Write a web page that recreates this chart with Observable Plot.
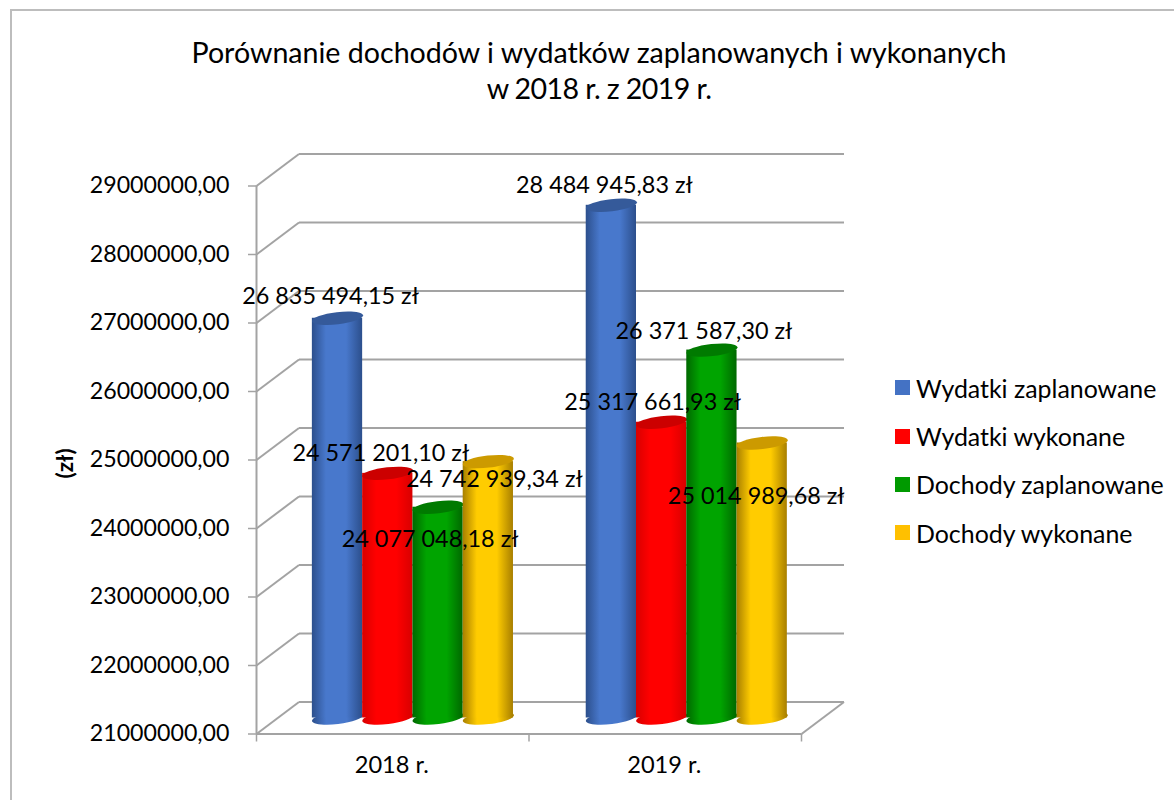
<!DOCTYPE html>
<html lang="pl">
<head>
<meta charset="utf-8">
<script src="https://cdn.jsdelivr.net/npm/d3@7"></script>
<script src="https://cdn.jsdelivr.net/npm/@observablehq/plot@0.6"></script>
<style>
  html, body { margin: 0; padding: 0; background: #fff; overflow: hidden; font-family: Lato, "Open Sans", sans-serif; color: #000; }
  #page { position: relative; width: 1174px; height: 800px; overflow: hidden; }
  #frame { position: absolute; left: 10px; top: 9px; right: -4px; bottom: -4px; border: 2px solid #bdbdbd; pointer-events: none; }
  #title { margin: 0 0 0 24px; width: 1150px; padding: 34px 0 4px; box-sizing: border-box; height: 110px; text-align: center; font-size: 28.6px; font-weight: 400; line-height: 36px; }
  #title span { letter-spacing: -0.6px; }
  #legend { position: absolute; left: 895px; top: 364px; }
  #chart svg { display: block; }
</style>
</head>
<body>
<div id="page">
  <div id="frame"></div>
  <h1 id="title"></h1>
  <div id="chart"></div>
  <div id="legend"></div>
</div>
<script>
const titleLines = ["Porównanie dochodów i wydatków zaplanowanych i wykonanych", "w 2018 r. z 2019 r."];
const categories = ["2018 r.", "2019 r."];
const seriesNames = ["Wydatki zaplanowane", "Wydatki wykonane", "Dochody zaplanowane", "Dochody wykonane"];
const wydatkiZaplanowane = [26835494.15, 28484945.83];
const wydatkiWykonane = [24571201.10, 25317661.93];
const dochodyZaplanowane = [24077048.18, 26371587.30];
const dochodyWykonane = [24742939.34, 25014989.68];
const yTicks = [21000000, 22000000, 23000000, 24000000, 25000000, 26000000, 27000000, 28000000, 29000000];
const yAxisTitle = "(zł)";

const seriesValues = [wydatkiZaplanowane, wydatkiWykonane, dochodyZaplanowane, dochodyWykonane];
const seriesColors = ["#4472c4", "#ff0000", "#009a00", "#ffc000"];
const bodyColors = ["#4878cc", "#ff0000", "#00a400", "#ffcc00"];
const capColors = ["#355a9a", "#cc0000", "#007a00", "#cc9a00"];
const edgeColors = ["#2c4f8c", "#d80000", "#006800", "#a87f00"];

// layout (pixels and pixel-equivalent offsets)
const W = 1174, H = 690, plotLeft = 256, plotRight = 801, plotTop = 75.5, plotBottom = 623.5;
const depthX = 42.5 / 272.5, depthY = 32 / 68.5 * 1e6, barLift = -16;
const groupStart = [0.205, 1.21], barWidth = 0.1845;
// label offsets from each cylinder's cap, in pixels
const labelDx = [[-7, -7, -8, 6], [-7, -9, -8, -6]];
const labelDy = [[-22, -20, 32, 18], [-20, -20, -19, 54]];

const yDomain = [yTicks[0], yTicks[yTicks.length - 1]];
const fmtTick = d => d.toFixed(2).replace(".", ",");
const fmtValue = d => {
  const [a, b] = d.toFixed(2).split(".");
  return a.replace(/\B(?=(\d{3})+$)/g, " ") + "," + b + " zł";
};

const bars = [];
categories.forEach((c, ci) => seriesNames.forEach((s, si) => {
  const x1 = groupStart[ci] + si * barWidth;
  bars.push({ c, s, ci, si, x1, x2: x1 + barWidth, xm: x1 + barWidth / 2, v: seriesValues[si][ci] });
}));

// tilted flat ellipse used as the cylinder's cap and base
const tilt = -6.5 * Math.PI / 180, flat = 0.235;
const ellipse = {
  draw(ctx, size) {
    const rx = Math.sqrt(size / Math.PI), ry = rx * flat, k = 0.5523;
    const cos = Math.cos(tilt), sin = Math.sin(tilt);
    const P = (x, y) => [x * cos - y * sin * 1, x * sin + y * cos];
    const seg = (a, b, c) => ctx.bezierCurveTo(...P(...a), ...P(...b), ...P(...c));
    ctx.moveTo(...P(rx, 0));
    seg([rx, k * ry], [k * rx, ry], [0, ry]);
    seg([-k * rx, ry], [-rx, k * ry], [-rx, 0]);
    seg([-rx, -k * ry], [-k * rx, -ry], [0, -ry]);
    seg([k * rx, -ry], [rx, -k * ry], [rx, 0]);
    ctx.closePath();
  }
};

const defs = () => {
  const d = d3.create("svg:defs");
  seriesColors.forEach((col, i) => {
    const g = d.append("linearGradient").attr("id", "cyl" + i).attr("x1", 0).attr("x2", 1).attr("y1", 0).attr("y2", 0);
    [[0, edgeColors[i]], [0.28, bodyColors[i]], [0.68, bodyColors[i]], [1, edgeColors[i]]].forEach(([o, c]) =>
      g.append("stop").attr("offset", o).attr("stop-color", c));
  });
  return d.node();
};

const grey = "#a3a3a3", gridW = 2;
const marks = [
  defs,
  // back wall
  Plot.link(yTicks, { x1: depthX, x2: 2 + depthX, y1: d => d + depthY, y2: d => d + depthY, stroke: grey, strokeWidth: gridW }),
  // left wall
  Plot.link(yTicks, { x1: 0, x2: depthX, y1: d => d, y2: d => d + depthY, stroke: grey, strokeWidth: gridW }),
  // floor
  Plot.link([yTicks[0]], { x1: 2, x2: 2 + depthX, y1: d => d, y2: d => d + depthY, stroke: grey, strokeWidth: gridW }),
  Plot.ruleX([0], { y1: yDomain[0], y2: yDomain[1], stroke: grey, strokeWidth: gridW }),
  Plot.ruleY([yTicks[0]], { x1: 0, x2: 2, stroke: grey, strokeWidth: gridW }),
  Plot.axisY({ ticks: yTicks, tickFormat: fmtTick, label: null, tickSize: 8, tickPadding: 19, fontSize: 23.2, stroke: grey, strokeWidth: 1.5, fill: "#000" }),
  Plot.axisX({ ticks: [0, 1, 2], tickFormat: () => "", label: null, tickSize: 8, stroke: grey, strokeWidth: 1.5 }),
  Plot.axisX({ ticks: categories.map((c, i) => i + 0.5), tickFormat: d => categories[Math.floor(d)], label: null, tickSize: 0, tickPadding: 22, fontSize: 23.6, dx: -1, fill: "#000" }),
  Plot.text([yAxisTitle], { x: 0, y: () => 24950000, text: d => d, dx: -191, rotate: -90, fontSize: 22.5, fontWeight: 700, fill: "#000" })
];

seriesNames.forEach((s, si) => {
  const rows = bars.filter(b => b.si === si);
  const fill = `url(#cyl${si})`;
  marks.push(
    Plot.dot(rows, { x: "xm", y: () => yDomain[0], dy: barLift, r: 25.7, symbol: ellipse, fill, stroke: "none" }),
    Plot.rect(rows, { x1: "x1", x2: "x2", y1: () => yDomain[0], y2: "v", dy: barLift, fill }),
    Plot.dot(rows, { x: "xm", y: "v", dy: barLift, r: 25.7, symbol: ellipse, fill: capColors[si], stroke: "none" })
  );
});

bars.forEach(b => {
  marks.push(Plot.text([b], {
    x: "xm", y: "v", text: d => fmtValue(d.v),
    dx: labelDx[b.ci][b.si], dy: barLift + labelDy[b.ci][b.si],
    fontSize: 23.4, fill: "#000"
  }));
});

const chart = Plot.plot({
  width: W, height: H,
  marginLeft: plotLeft, marginRight: W - plotRight, marginTop: plotTop, marginBottom: H - plotBottom,
  style: { fontFamily: "Lato, 'Open Sans', sans-serif", background: "transparent", overflow: "visible" },
  x: { type: "linear", domain: [0, 2], axis: null },
  y: { type: "linear", domain: yDomain, axis: null },
  marks
});
document.getElementById("chart").append(chart);

const title = document.getElementById("title");
title.innerHTML = titleLines[0] + "<br><span>" + titleLines[1] + "</span>";

const legend = Plot.legend({
  color: { type: "ordinal", domain: seriesNames, range: seriesColors },
  columns: 1, swatchSize: 15,
  style: { fontFamily: "Lato, 'Open Sans', sans-serif", fontSize: "24.9px", color: "#000" }
});
document.getElementById("legend").append(legend);
const st = document.createElement("style");
st.textContent = `#legend div { line-height: 48.3px; }
#legend > div > div, #legend [class$="-item"] { height: 47.4px; display: flex; align-items: center; margin: 0 !important; }
#legend svg { margin-right: 6px !important; }`;
document.head.append(st);
</script>
</body>
</html>
